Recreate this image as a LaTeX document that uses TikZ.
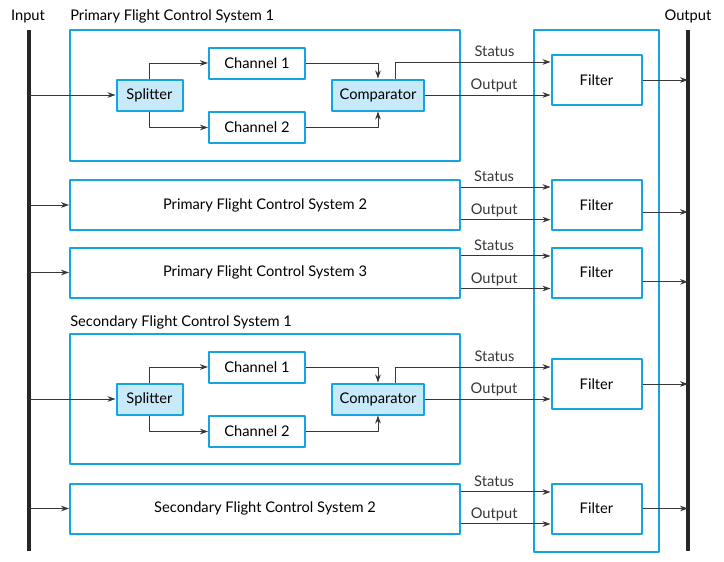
\documentclass[tikz,border=0pt]{standalone}
\usepackage{fontspec}
\setmainfont{Lato}
\usetikzlibrary{positioning,arrows.meta}
\definecolor{sysblue}{RGB}{20,165,225}
\definecolor{unitfill}{RGB}{200,233,249}
\definecolor{wiregray}{RGB}{55,55,55}
\tikzset{
  sysbox/.style={draw=sysblue, line width=1.5pt, inner sep=0pt, minimum width=292.5pt},
  unit/.style={draw=sysblue, line width=1.5pt, inner sep=0pt, minimum height=23.25pt},
  filt/.style={unit, minimum width=67.5pt, minimum height=37.5pt},
  chan/.style={unit, minimum width=72pt},
  proc/.style={unit, fill=unitfill},
  wire/.style={wiregray, line width=0.75pt, ->},
  bar/.style={line width=2.4pt, black!85},
  lbl/.style={anchor=base, yshift=4pt, inner sep=0pt},
}
\begin{document}
\begin{tikzpicture}[x=0.75pt, y=-0.75pt, font=\fontsize{11}{13}\selectfont, >={Stealth[length=6pt,width=4.2pt]}, line join=round]
\useasboundingbox (0,0) rectangle (724,561);
% input and output bars
\coordinate (intop) at (29,30); \coordinate (inbot) at (29,551);
\coordinate (outtop) at (688,30); \coordinate (outbot) at (688,551);
\draw[bar] (intop) -- (inbot);
\draw[bar] (outtop) -- (outbot);
\node (inlbl) at (28,16) {Input};
\node (outlbl) at (688,16) {Output};

% filter column
\node[draw=sysblue, line width=1.5pt, minimum width=93.75pt, minimum height=391.5pt] (fcol) at (596.5,290.5) {};
\node[filt] (flt1) at (596.5,80) {Filter};
\node[filt] (flt2) at (596.5,205) {Filter};
\node[filt] (flt3) at (596.5,272.5) {Filter};
\node[filt] (flt4) at (596.5,384) {Filter};
\node[filt] (flt5) at (596.5,508.5) {Filter};

% primary system 1
\node[anchor=west, inner sep=0pt] (pfcs1lbl) at (70,16) {Primary Flight Control System 1};
\node[sysbox, minimum height=98.25pt] (pfcs1) at (265,95) {};
\node[proc, minimum width=49.5pt] (spl1) at (149.5,95) {Splitter};
\node[chan] (ch11) at (257,63) {Channel 1};
\node[chan] (ch21) at (257,127.5) {Channel 2};
\node[proc, minimum width=69pt] (cmp1) at (378,95) {Comparator};
\draw[wire] (spl1.west -| intop) -- (spl1.west);
\draw[wire] (spl1.north) |- (ch11.west);
\draw[wire] (spl1.south) |- (ch21.west);
\draw[wire] (ch11.east) -| (cmp1.north);
\draw[wire] (ch21.east) -| (cmp1.south);
\draw[wire] ([xshift=12.75pt]cmp1.north) |- ([yshift=13.5pt]flt1.west) node[lbl, pos=0.82] {Status};
\draw[wire] (cmp1.east) -- (cmp1.east -| flt1.west) node[lbl, pos=0.55] {Output};
\coordinate (o1) at (flt1.east -| outtop);
\draw[wire] (flt1.east) -- (o1);

% primary system 2
\node[sysbox, minimum height=37.5pt] (pfcs2) at (265,205) {Primary Flight Control System 2};
\draw[wire] (pfcs2.west -| intop) -- (pfcs2.west);
\draw[wire] ([yshift=13.5pt]pfcs2.east) -- ([yshift=13.5pt]flt2.west) node[lbl, pos=0.37] {Status};
\draw[wire] ([yshift=-11pt]pfcs2.east) -- ([yshift=-11pt]flt2.west) node[lbl, pos=0.37] {Output};
\coordinate (o2) at ([yshift=-5.25pt]flt2.east -| outtop);
\draw[wire] ([yshift=-5.25pt]flt2.east) -- (o2);

% primary system 3
\node[sysbox, minimum height=37.5pt] (pfcs3) at (265,272.5) {Primary Flight Control System 3};
\draw[wire] (pfcs3.west -| intop) -- (pfcs3.west);
\draw[wire] ([yshift=12.4pt]pfcs3.east) -- ([yshift=12.4pt]flt3.west) node[lbl, pos=0.37] {Status};
\draw[wire] ([yshift=-12pt]pfcs3.east) -- ([yshift=-12pt]flt3.west) node[lbl, pos=0.37] {Output};
\coordinate (o3) at ([yshift=-7pt]flt3.east -| outtop);
\draw[wire] ([yshift=-7pt]flt3.east) -- (o3);

% secondary system 1
\node[anchor=west, inner sep=0pt] (sfcs1lbl) at (70,322) {Secondary Flight Control System 1};
\node[sysbox, minimum height=97.5pt] (sfcs1) at (265,399) {};
\node[proc, minimum width=49.5pt] (spl2) at (149.5,399) {Splitter};
\node[chan] (ch12) at (257,367) {Channel 1};
\node[chan] (ch22) at (257,431.5) {Channel 2};
\node[proc, minimum width=69pt] (cmp2) at (378,399) {Comparator};
\draw[wire] (spl2.west -| intop) -- (spl2.west);
\draw[wire] (spl2.north) |- (ch12.west);
\draw[wire] (spl2.south) |- (ch22.west);
\draw[wire] (ch12.east) -| (cmp2.north);
\draw[wire] (ch22.east) -| (cmp2.south);
\draw[wire] ([xshift=12.75pt]cmp2.north) |- ([yshift=12.75pt]flt4.west) node[lbl, pos=0.82] {Status};
\draw[wire] (cmp2.east) -- (cmp2.east -| flt4.west) node[lbl, pos=0.55] {Output};
\coordinate (o4) at (flt4.east -| outtop);
\draw[wire] (flt4.east) -- (o4);

% secondary system 2
\node[sysbox, minimum height=37.5pt] (sfcs2) at (265,508.5) {Secondary Flight Control System 2};
\draw[wire] (sfcs2.west -| intop) -- (sfcs2.west);
\draw[wire] ([yshift=12.4pt]sfcs2.east) -- ([yshift=12.4pt]flt5.west) node[lbl, pos=0.37] {Status};
\draw[wire] ([yshift=-11.6pt]sfcs2.east) -- ([yshift=-11.6pt]flt5.west) node[lbl, pos=0.37] {Output};
\coordinate (o5) at (flt5.east -| outtop);
\draw[wire] (flt5.east) -- (o5);
\end{tikzpicture}
\end{document}
